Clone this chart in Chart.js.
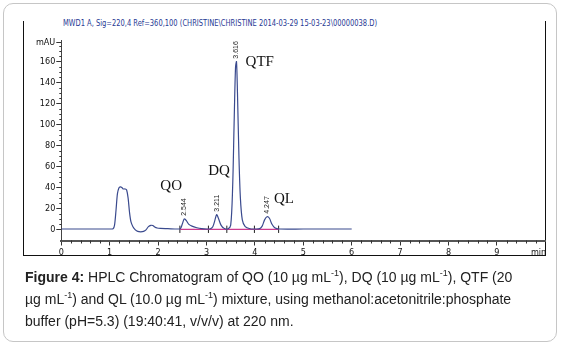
<!DOCTYPE html>
<html>
<head>
<meta charset="utf-8">
<script src="https://cdn.jsdelivr.net/npm/chart.js@4.4.1/dist/chart.umd.min.js"></script>
<style>
    html, body { margin: 0; padding: 0; background: #fff; }
    body { width: 561px; height: 347px; position: relative; overflow: hidden; }
    #box { position: absolute; left: 3px; top: 3px; width: 552px; height: 337px; border: 1.5px solid #c6c6c6; border-radius: 10px; }
    #frame { position: absolute; left: 23px; top: 21px; width: 521px; height: 234px; border-left: 1.5px solid #111; border-right: 1.5px solid #111; border-bottom: 1.5px solid #111; }
    #title { position: absolute; left: 63px; top: 18px; font: 9px 'Liberation Sans Narrow', 'DejaVu Sans Condensed', sans-serif; color: #283a94; white-space: nowrap; transform-origin: 0 0; }
    #caption { position: absolute; left: 25px; top: 266px; font: 14px 'Liberation Sans', Arial, sans-serif; line-height: 22px; color: #222; white-space: nowrap; }
    #caption sup { font-size: 9px; line-height: 0; }
    canvas { position: absolute; left: 0; top: 0; }
</style>
</head>
<body>
<div id="box"></div>
<div id="frame"></div>
<div id="title">MWD1 A, Sig=220,4 Ref=360,100 (CHRISTINE\CHRISTINE 2014-03-29 15-03-23\00000038.D)</div>
<canvas id="chromChart" width="561" height="347"></canvas>
<div id="caption"><b>Figure 4:</b> HPLC Chromatogram of QO (10 µg mL<sup>-1</sup>), DQ (10 µg mL<sup>-1</sup>), QTF (20<br>µg mL<sup>-1</sup>) and QL (10.0 µg mL<sup>-1</sup>) mixture, using methanol:acetonitrile:phosphate<br>buffer (pH=5.3) (19:40:41, v/v/v) at 220 nm.</div>
<script>
// detector trace (min, mAU)
const traceTime = [0, 0.5, 1.0, 1.07, 1.1, 1.13, 1.16, 1.19, 1.22, 1.25, 1.28, 1.32, 1.35, 1.38, 1.41, 1.44, 1.48, 1.53, 1.58, 1.64, 1.7, 1.75, 1.8, 1.85, 1.89, 1.93, 1.98, 2.05, 2.2, 2.4, 2.46, 2.5, 2.54, 2.58, 2.63, 2.7, 2.8, 2.9, 3.0, 3.08, 3.13, 3.17, 3.21, 3.25, 3.3, 3.36, 3.44, 3.5, 3.54, 3.57, 3.6, 3.62, 3.64, 3.67, 3.7, 3.74, 3.8, 3.9, 4.0, 4.1, 4.15, 4.2, 4.25, 4.3, 4.35, 4.41, 4.5, 5.0, 6.0];
const traceMAU = [0.3, 0.3, 0.3, 0.6, 4, 18, 34, 39.5, 40.5, 40, 38.5, 38.5, 37.5, 30, 16, 7, 2.5, -0.5, -2, -2.4, -2, -0.5, 2.5, 3.8, 3.6, 2.2, 1.2, 0.8, 0.6, 0.3, 0.6, 5, 10, 8.5, 5, 3, 1.5, 0.6, 0.3, 0.5, 2.5, 8, 14, 10, 4, 1, 0.3, 4, 40, 100, 155, 160, 130, 70, 30, 9, 2.5, 0.5, 0.3, 0.6, 3, 9, 12, 10.5, 5, 1.5, 0.3, 0.3, 0.3];

// integration baseline and peak limits
const baselineTime = [2.45, 4.49];
const baselineMAU = [0, 0];
const peakLimits = [2.45, 3.04, 3.42, 3.99, 4.49];

// peak retention-time labels
const peakTimes = [2.544, 3.211, 3.616, 4.247];
const peakTops = [10, 14, 160, 12];
const peakTexts = ['2.544', '3.211', '3.616', '4.247'];

// compound names
const compoundNames = ['QO', 'DQ', 'QTF', 'QL'];
const compoundTime = [2.27, 3.26, 4.1, 4.6];
const compoundMAU = [41, 56, 160, 29];

// axis ticks
const yTickValues = [0, 20, 40, 60, 80, 100, 120, 140, 160];
const yUnitTick = 178;
const xTickValues = [0, 1, 2, 3, 4, 5, 6, 7, 8, 9];
const xUnitTick = 9.86;

const axisFont = { family: "'Liberation Sans Narrow', 'DejaVu Sans Condensed', sans-serif", size: 9 };

// squeeze the header line to its width in the picture
const title = document.getElementById('title');
title.style.transform = 'scaleX(' + (314 / title.offsetWidth) + ')';

const limitPoints = [];
peakLimits.forEach(t => {
    limitPoints.push({ x: t, y: -3.5 }, { x: t, y: 3.5 }, { x: t, y: null });
});

const annotations = {
    id: 'annotations',
    afterDatasetsDraw(chart) {
        const c = chart.ctx;
        const xs = chart.scales.x;
        const ys = chart.scales.y;
        c.save();
        // minor ticks
        c.strokeStyle = '#333';
        c.lineWidth = 1;
        c.beginPath();
        for (let v = 5; v < 180; v += 5) {
            if (v % 20 === 0) continue;
            const py = Math.round(ys.getPixelForValue(v)) + 0.5;
            c.moveTo(xs.left - 2, py);
            c.lineTo(xs.left, py);
        }
        for (let i = 1; i < 50; i++) {
            if (i % 5 === 0) continue;
            const px = Math.round(xs.getPixelForValue(i / 5)) + 0.5;
            c.moveTo(px, ys.bottom);
            c.lineTo(px, ys.bottom + 3);
        }
        c.stroke();
        // retention times, rotated
        c.fillStyle = '#222';
        c.font = "7px 'Liberation Sans', Arial, sans-serif";
        c.textAlign = 'left';
        c.textBaseline = 'middle';
        peakTimes.forEach((t, i) => {
            c.save();
            c.translate(xs.getPixelForValue(t), ys.getPixelForValue(peakTops[i]) - 3);
            c.rotate(-Math.PI / 2);
            c.fillText(peakTexts[i], 0, 0);
            c.restore();
        });
        // compound names
        c.fillStyle = '#111';
        c.font = "15px 'Liberation Serif', 'Times New Roman', serif";
        c.textAlign = 'center';
        compoundNames.forEach((name, i) => {
            c.fillText(name, xs.getPixelForValue(compoundTime[i]), ys.getPixelForValue(compoundMAU[i]));
        });
        c.restore();
    }
};

new Chart(document.getElementById('chromChart').getContext('2d'), {
    type: 'scatter',
    data: {
        datasets: [
            {
                data: traceTime.map((t, i) => ({ x: t, y: traceMAU[i] })),
                showLine: true,
                borderColor: '#3a4a8e',
                borderWidth: 1.2,
                pointRadius: 0,
                tension: 0.3
            },
            {
                data: baselineTime.map((t, i) => ({ x: t, y: baselineMAU[i] })),
                showLine: true,
                borderColor: '#cc3b8f',
                borderWidth: 1.2,
                pointRadius: 0
            },
            {
                data: limitPoints,
                showLine: true,
                spanGaps: false,
                borderColor: '#222',
                borderWidth: 1,
                pointRadius: 0
            }
        ]
    },
    options: {
        responsive: false,
        animation: false,
        layout: {
            padding: { left: 21.3, right: 15.7, top: 40.75, bottom: 90.5 }
        },
        plugins: {
            legend: { display: false },
            tooltip: { enabled: false }
        },
        scales: {
            x: {
                type: 'linear',
                min: 0,
                max: 10,
                afterBuildTicks: axis => {
                    axis.ticks = xTickValues.concat([xUnitTick]).map(v => ({ value: v }));
                },
                afterFit: axis => { axis.height = 16; },
                ticks: {
                    autoSkip: false,
                    maxRotation: 0,
                    padding: 2,
                    color: '#111',
                    font: axisFont,
                    callback: v => v === xUnitTick ? 'min' : v
                },
                grid: {
                    drawOnChartArea: false,
                    tickLength: 5,
                    tickColor: c => c.tick && c.tick.value === xUnitTick ? 'rgba(0,0,0,0)' : '#333'
                },
                border: { color: '#555', width: 2 }
            },
            y: {
                type: 'linear',
                min: -10.7,
                max: 180,
                afterBuildTicks: axis => {
                    axis.ticks = yTickValues.concat([yUnitTick]).map(v => ({ value: v }));
                },
                afterFit: axis => { axis.width = 40; },
                ticks: {
                    autoSkip: false,
                    padding: 1,
                    color: '#111',
                    font: axisFont,
                    callback: v => v === yUnitTick ? 'mAU' : v
                },
                grid: {
                    drawOnChartArea: false,
                    tickLength: 5,
                    tickColor: '#333'
                },
                border: { color: '#444', width: 1 }
            }
        }
    },
    plugins: [annotations]
});
</script>
</body>
</html>
